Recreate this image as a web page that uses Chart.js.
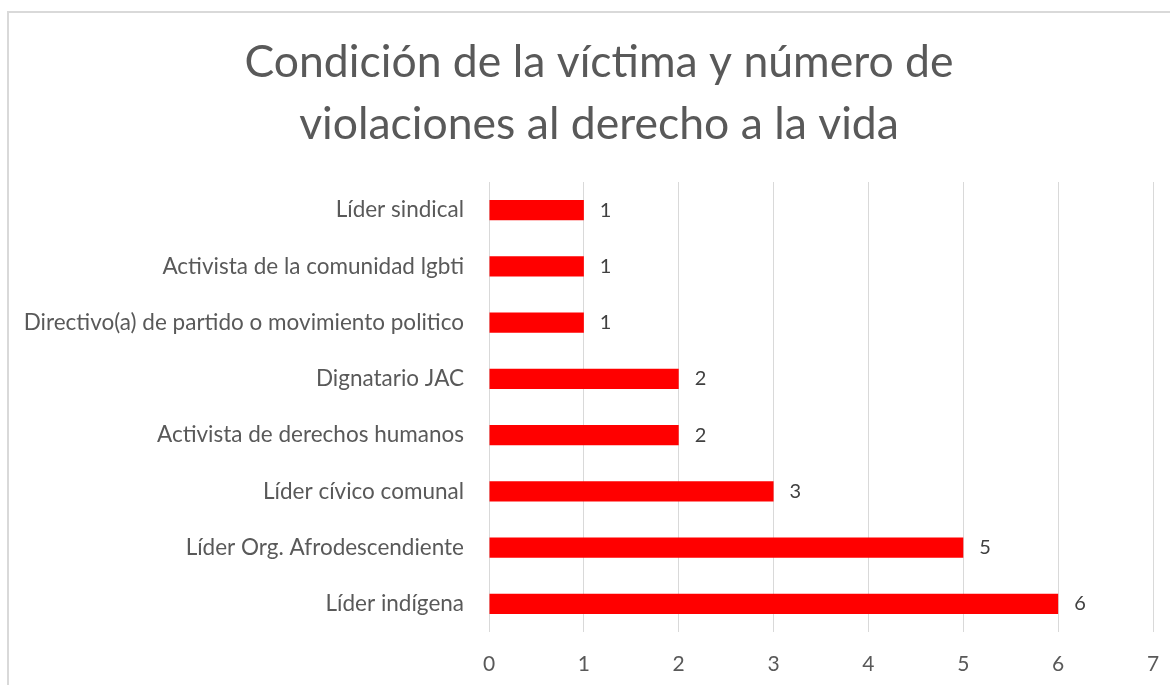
<!DOCTYPE html>
<html>
<head>
<meta charset="utf-8">
<script src="https://cdn.jsdelivr.net/npm/chart.js@4.4.1/dist/chart.umd.min.js"></script>
<style>
  html, body { margin: 0; padding: 0; background: #fff; overflow: hidden; }
  #wrap { position: relative; width: 1170px; height: 685px; }
  #frame {
    position: absolute; left: 7px; top: 11px; width: 1200px; height: 720px;
    border: 2px solid #d9d9d9; box-sizing: border-box;
  }
  canvas { position: absolute; left: 0; top: 0; }
</style>
</head>
<body>
<div id="wrap">
  <div id="frame"></div>
  <canvas id="chart" width="1170" height="685"></canvas>
</div>
<script>
// ==================== DATOS ====================
const titleLines = ["Condición de la víctima y número de", "violaciones al derecho a la vida"];
const categories = [
  "Líder sindical",
  "Activista de la comunidad lgbti",
  "Directivo(a) de partido o movimiento politico",
  "Dignatario JAC",
  "Activista de derechos humanos",
  "Líder cívico comunal",
  "Líder Org. Afrodescendiente",
  "Líder indígena"
];
const violaciones = [1, 1, 1, 2, 2, 3, 5, 6];
const xTicks = [0, 1, 2, 3, 4, 5, 6, 7];

const FONT = "Lato, 'Open Sans', sans-serif";

// título en dos líneas, centrado como en el original
const titlePlugin = {
  id: "titleLines",
  afterDraw(chart) {
    const ctx = chart.ctx;
    ctx.save();
    ctx.font = `44.5px ${FONT}`;
    ctx.fillStyle = "#595959";
    ctx.textAlign = "center";
    ctx.textBaseline = "middle";
    titleLines.forEach((line, i) => ctx.fillText(line, 599, 63 + i * 62));
    ctx.restore();
  }
};

// etiquetas de valor a la derecha de cada barra
const valueLabels = {
  id: "valueLabels",
  afterDatasetsDraw(chart) {
    const ctx = chart.ctx;
    const meta = chart.getDatasetMeta(0);
    ctx.save();
    ctx.font = `20px ${FONT}`;
    ctx.fillStyle = "#404040";
    ctx.textAlign = "left";
    ctx.textBaseline = "middle";
    meta.data.forEach((bar, i) => {
      ctx.fillText(String(violaciones[i]), bar.x + 16, bar.y);
    });
    ctx.restore();
  }
};

const ctx = document.getElementById("chart").getContext("2d");
new Chart(ctx, {
  type: "bar",
  data: {
    labels: categories,
    datasets: [{
      data: violaciones,
      backgroundColor: "#ff0000",
      borderWidth: 0,
      categoryPercentage: 1,
      barPercentage: 0.36
    }]
  },
  plugins: [valueLabels, titlePlugin],
  options: {
    indexAxis: "y",
    responsive: false,
    animation: false,
    layout: { padding: { left: 0, right: 17, top: 182, bottom: 0 } },
    plugins: {
      legend: { display: false },
      tooltip: { enabled: false },
      title: { display: false }
    },
    scales: {
      x: {
        min: 0,
        max: 7,
        afterBuildTicks: axis => { axis.ticks = xTicks.map(v => ({ value: v })); },
        afterFit: axis => { axis.height = 53; },
        grid: { color: "#d9d9d9", drawTicks: true, tickLength: 18, tickColor: "rgba(0,0,0,0)" },
        border: { display: false },
        ticks: { color: "#595959", font: { family: FONT, size: 21 }, padding: 2 }
      },
      y: {
        afterFit: axis => { axis.width = 489; },
        grid: { display: false, drawTicks: false },
        border: { display: false },
        ticks: { color: "#595959", font: { family: FONT, size: 22.5 }, padding: 25 }
      }
    }
  }
});
</script>
</body>
</html>
